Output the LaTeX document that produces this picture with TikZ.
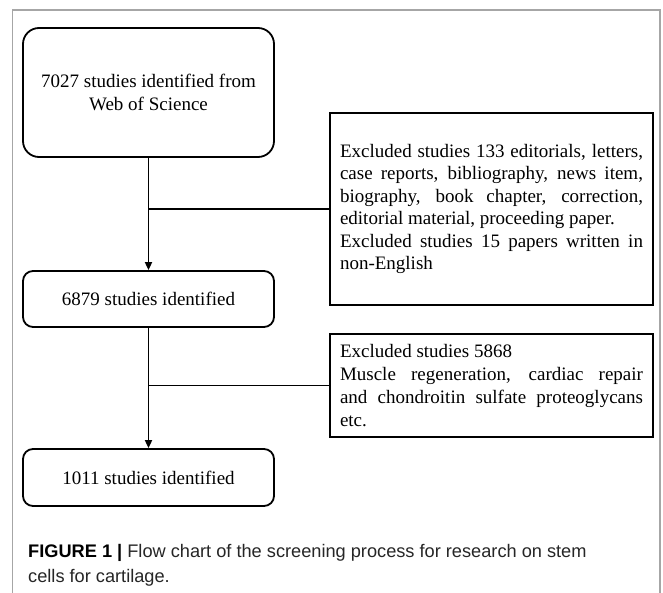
\documentclass[tikz,border=0pt]{standalone}
\usepackage{fontspec}
\setmainfont{Liberation Serif}
\newfontfamily\capfont{Liberation Sans}
\usetikzlibrary{arrows.meta}
\tikzset{
  flowbox/.style={draw=black, line width=1.8pt, rounded corners=10pt, minimum width=251pt, inner sep=0pt, align=center, font=\fontsize{19}{23}\selectfont},
  exbox/.style={draw=black, line width=1.8pt, minimum width=323pt, inner xsep=10pt, inner ysep=0pt, text width=303pt, align=justify},
  conn/.style={line width=1.8pt},
  arr/.style={conn, -{Triangle[length=8pt,width=7pt]}}
}
\begin{document}
\begin{tikzpicture}[x=1pt,y=-1pt]
\useasboundingbox (0,0) rectangle (663,592);
\clip (0,0) rectangle (663,592);
\fill[white] (0,0) rectangle (663,592);
\draw[black!35, line width=1.4pt] (12.7,600) -- (12.7,10) -- (660,10) -- (660,600);

\node[flowbox, rounded corners=16pt, minimum height=129pt] (b1) at (148.5,92.5) {7027 studies identified from\\Web of Science};
\node[flowbox, minimum height=56pt] (b2) at (148.5,299) {6879 studies identified};
\node[flowbox, minimum height=57pt] (b3) at (148.5,477.5) {1011 studies identified};

\node[exbox, minimum height=192pt, font=\fontsize{19}{22.4}\selectfont] (e1) at (491.5,209)
 {Excluded studies 133 editorials, letters,\linebreak case reports, bibliography, news item,\linebreak biography, book chapter, correction,\linebreak editorial material, proceeding paper.\\Excluded studies 15 papers written in\linebreak non-English\par\vspace{-6pt}};
\node[exbox, minimum height=103pt, font=\fontsize{19}{23.3}\selectfont] (e2) at (491.5,385.5)
 {Excluded studies 5868\\Muscle regeneration, cardiac repair\linebreak and chondroitin sulfate proteoglycans\linebreak etc.};

\coordinate (j1) at (b1.south |- e1.west);
\coordinate (j2) at (b2.south |- e2.west);
\draw[arr] (b1.south) -- (b2.north);
\draw[conn] (j1) -- (e1.west);
\draw[arr] (b2.south) -- (b3.north);
\draw[conn] (j2) -- (e2.west);

\node[anchor=base west, inner sep=0pt, align=left, text=black!85, font=\capfont\fontsize{18.2}{24.5}\selectfont] (cap) at (28,582)
 {{\color{black}\bfseries FIGURE 1 |} Flow chart of the screening process for research on stem\\cells for cartilage.};
\end{tikzpicture}
\end{document}
